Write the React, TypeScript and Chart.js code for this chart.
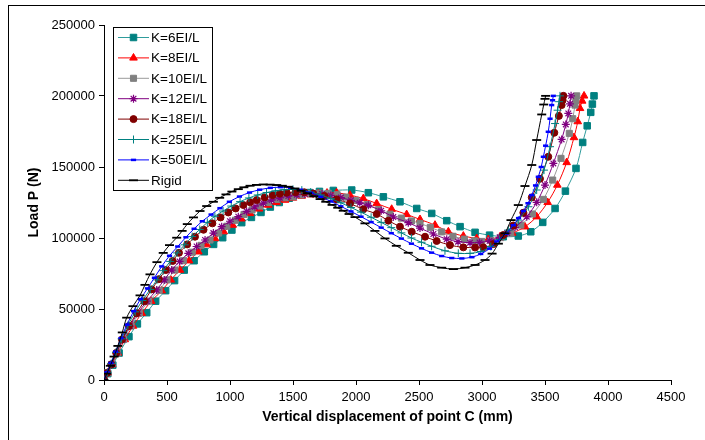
import React, { useEffect, useRef } from 'react';
import { Chart, registerables } from 'chart.js';
import { drawPoint } from 'chart.js/helpers';

Chart.register(...registerables);

// ---------- data (displacement in mm, load in N) ----------
const K6_X = [0, 30, 70, 120, 198, 265, 339, 410, 489, 560, 637, 715, 796, 870, 942, 1015, 1093, 1170, 1246, 1320, 1391, 1470, 1550, 1630, 1710, 1820, 1966, 2098, 2217, 2349, 2482, 2601, 2720, 2826, 2945, 3060, 3169, 3288, 3387, 3482, 3580, 3662, 3746, 3799, 3835, 3863, 3876, 3889];
const K6_Y = [0, 4500, 10500, 19000, 30500, 39500, 47400, 55500, 62900, 70000, 77400, 84000, 90300, 95500, 100200, 105600, 110800, 114500, 118000, 121800, 125000, 128000, 130900, 132000, 132800, 133500, 133800, 131900, 129000, 125500, 120800, 117300, 112200, 108000, 104000, 102000, 100900, 101400, 104400, 111000, 120800, 133000, 149000, 167300, 179000, 188500, 194300, 200100];

const K8_X = [0, 28, 65, 110, 165, 230, 300, 375, 458, 530, 603, 675, 749, 815, 881, 950, 1021, 1090, 1159, 1230, 1304, 1370, 1437, 1500, 1569, 1640, 1701, 1770, 1846, 1952, 2058, 2164, 2283, 2402, 2508, 2627, 2733, 2852, 2958, 3050, 3143, 3240, 3341, 3434, 3521, 3598, 3672, 3730, 3760, 3778, 3795, 3810];
const K8_Y = [0, 5000, 11000, 19000, 28500, 38000, 47000, 55500, 62900, 70500, 77400, 84000, 90300, 95300, 99700, 104500, 109100, 113500, 117300, 120500, 123200, 125100, 126700, 128200, 129500, 130500, 131200, 131700, 131900, 130200, 127800, 124300, 120300, 116600, 113100, 109100, 104400, 101400, 99700, 99000, 100900, 103500, 107900, 115000, 125100, 137300, 153200, 170800, 182000, 191300, 196500, 200100];

const K10_X = [0, 27, 62, 105, 155, 215, 280, 355, 438, 500, 563, 630, 700, 770, 841, 910, 975, 1043, 1111, 1175, 1238, 1305, 1371, 1437, 1503, 1570, 1640, 1710, 1780, 1850, 1920, 2000, 2090, 2180, 2270, 2360, 2440, 2508, 2590, 2680, 2770, 2860, 2940, 2997, 3070, 3150, 3228, 3308, 3400, 3487, 3561, 3627, 3693, 3720, 3738, 3745, 3752];
const K10_Y = [0, 5000, 11000, 19000, 28500, 38000, 47000, 55500, 63200, 70500, 77400, 84000, 90000, 94800, 98600, 103500, 108300, 112500, 116600, 119800, 122500, 125000, 127200, 128300, 129000, 130300, 131200, 131600, 131500, 130500, 128800, 126500, 123500, 120000, 116800, 114000, 112000, 110300, 107500, 104300, 101200, 99200, 98000, 97600, 98300, 100300, 103500, 109100, 116900, 127200, 140800, 156100, 173700, 184000, 193600, 197000, 200100];

const K12_X = [0, 26, 60, 100, 148, 205, 268, 340, 418, 478, 537, 600, 669, 735, 802, 868, 934, 1000, 1066, 1132, 1198, 1265, 1331, 1397, 1463, 1530, 1595, 1660, 1730, 1800, 1880, 1960, 2030, 2098, 2200, 2296, 2415, 2508, 2614, 2720, 2810, 2905, 2980, 3060, 3140, 3200, 3262, 3355, 3434, 3500, 3566, 3632, 3665, 3685, 3698, 3707];
const K12_Y = [0, 5000, 11000, 19000, 28500, 38000, 47000, 55500, 63400, 70500, 77400, 83500, 89200, 94000, 98600, 103500, 108000, 111800, 115000, 118800, 122000, 124500, 126700, 128300, 129500, 130500, 131000, 131300, 131000, 130000, 128500, 126500, 124800, 123000, 119200, 114800, 110800, 107000, 102800, 99200, 97400, 96700, 96900, 98000, 100500, 103500, 107500, 115000, 125100, 137300, 152500, 169400, 180000, 187700, 194500, 200100];

const K18_X = [0, 25, 58, 97, 143, 198, 258, 320, 378, 435, 490, 545, 595, 660, 722, 790, 860, 925, 987, 1045, 1106, 1160, 1212, 1275, 1339, 1395, 1450, 1520, 1590, 1660, 1750, 1846, 1952, 2058, 2164, 2257, 2349, 2442, 2548, 2640, 2746, 2852, 2945, 3010, 3090, 3169, 3249, 3328, 3395, 3460, 3526, 3574, 3610, 3632, 3640, 3646];
const K18_Y = [0, 5000, 11000, 19000, 28500, 38000, 47000, 55500, 63800, 71000, 77400, 83800, 89600, 95500, 100900, 105800, 110300, 114500, 118000, 120800, 123200, 125100, 126700, 128600, 130200, 131200, 131900, 132300, 132200, 131300, 129600, 127200, 124300, 120200, 116900, 112200, 108000, 104400, 100900, 97900, 95000, 93400, 93300, 93400, 95700, 102100, 108800, 117800, 128600, 141700, 157200, 174100, 186000, 193600, 197000, 200100];

const K25_X = [0, 25, 57, 95, 140, 190, 248, 305, 367, 420, 470, 525, 580, 640, 700, 760, 820, 880, 945, 1010, 1080, 1150, 1220, 1290, 1360, 1430, 1500, 1570, 1640, 1720, 1800, 1880, 1960, 2040, 2120, 2200, 2280, 2360, 2440, 2520, 2600, 2706, 2812, 2905, 2990, 3070, 3140, 3209, 3288, 3368, 3434, 3492, 3540, 3580, 3600, 3612, 3619];
const K25_Y = [0, 5200, 11500, 19500, 29000, 38500, 48000, 56000, 63800, 70500, 77000, 83500, 89500, 95200, 101000, 106000, 111000, 115300, 119000, 122500, 125600, 128200, 130300, 132000, 133200, 134000, 134200, 133700, 132300, 130300, 127700, 124800, 121500, 118200, 114600, 111000, 107300, 103600, 100000, 97000, 94200, 91000, 89200, 89200, 90500, 94000, 99000, 105600, 112600, 122000, 133800, 147800, 164300, 180600, 190000, 196000, 200100];

const K50_X = [0, 24, 55, 92, 135, 183, 235, 290, 345, 400, 458, 520, 585, 650, 715, 780, 850, 920, 995, 1075, 1155, 1235, 1320, 1400, 1480, 1560, 1640, 1720, 1800, 1880, 1960, 2040, 2120, 2200, 2280, 2360, 2440, 2520, 2600, 2680, 2760, 2840, 2920, 2990, 3060, 3117, 3190, 3249, 3290, 3328, 3365, 3395, 3425, 3447, 3470, 3487, 3505, 3526, 3540, 3553, 3560, 3566];
const K50_Y = [0, 5500, 12000, 20000, 29500, 39000, 48500, 57000, 64500, 72000, 80000, 87500, 94000, 100500, 106500, 111800, 116500, 121000, 125500, 129200, 132000, 134000, 135300, 135800, 135400, 134000, 131800, 129000, 125800, 122300, 118700, 115000, 111200, 107300, 103400, 99600, 96000, 92700, 89700, 87300, 85900, 85600, 86500, 88800, 92500, 97600, 103000, 109000, 114000, 119000, 124500, 130200, 137000, 143100, 150000, 157200, 165000, 174800, 184000, 193600, 197000, 200100];

const RIGID_X = [0, 22, 50, 80, 110, 145, 180, 230, 286, 325, 365, 420, 470, 520, 577, 620, 661, 710, 762, 815, 868, 918, 968, 1015, 1066, 1110, 1159, 1210, 1264, 1318, 1371, 1415, 1463, 1515, 1565, 1615, 1665, 1715, 1760, 1810, 1855, 1899, 1945, 1992, 2071, 2150, 2230, 2320, 2415, 2508, 2587, 2680, 2773, 2865, 2945, 3024, 3080, 3130, 3183, 3230, 3288, 3341, 3395, 3434, 3474, 3490, 3500, 3505];
const RIGID_Y = [0, 4500, 10000, 16500, 24000, 33500, 43900, 52000, 59600, 67000, 74400, 83000, 89500, 95000, 100200, 105000, 109800, 114500, 119000, 122500, 125500, 128300, 130700, 132700, 134400, 135700, 136800, 137400, 137700, 137600, 137300, 136800, 136100, 134900, 133300, 131500, 129400, 127400, 125500, 123300, 121300, 119200, 116900, 114700, 110300, 105000, 99700, 94500, 89600, 84500, 81000, 79100, 78100, 79100, 81000, 84500, 89000, 96000, 103300, 112600, 123200, 136600, 151400, 169000, 187000, 194000, 198000, 200100];

const SERIES_LABELS = ['K=6EI/L', 'K=8EI/L', 'K=10EI/L', 'K=12EI/L', 'K=18EI/L', 'K=25EI/L', 'K=50EI/L', 'Rigid'];
const SERIES_X = [K6_X, K8_X, K10_X, K12_X, K18_X, K25_X, K50_X, RIGID_X];
const SERIES_Y = [K6_Y, K8_Y, K10_Y, K12_Y, K18_Y, K25_Y, K50_Y, RIGID_Y];

const X_TITLE = 'Vertical displacement of point C (mm)';
const Y_TITLE = 'Load P (N)';

// ---------- styles ----------
const STYLES = [
  { line: '#2f9c9c', fill: '#008080', stroke: '#008080', point: 'rect', radius: 4.6, bw: 1 },
  { line: '#ff0000', fill: '#ff0000', stroke: '#ff0000', point: 'triangle', radius: 4.4, bw: 1 },
  { line: '#9a9a9a', fill: '#808080', stroke: '#808080', point: 'rect', radius: 4.3, bw: 1 },
  { line: '#800080', fill: '#800080', stroke: '#800080', point: 'star', radius: 4, bw: 1.2 },
  { line: '#800000', fill: '#800000', stroke: '#800000', point: 'circle', radius: 3.5, bw: 1 },
  { line: '#008080', fill: '#008080', stroke: '#008080', point: 'cross', radius: 4, bw: 1 },
  { line: '#0000ff', fill: '#0000ff', stroke: '#0000ff', point: 'line', radius: 2.6, bw: 2.5 },
  { line: '#000000', fill: '#000000', stroke: '#000000', point: 'line', radius: 4.5, bw: 1.8 },
];

const FONT = 'Liberation Sans, Arial, sans-serif';

const legendPlugin = {
  id: 'boxLegend',
  afterDatasetsDraw(chart: any) {
    const ctx = chart.ctx as CanvasRenderingContext2D;
    ctx.save();
    const x0 = 113, y0 = 27, w = 99, h = 163;
    ctx.fillStyle = '#ffffff';
    ctx.fillRect(x0, y0, w, h);
    ctx.strokeStyle = '#000000';
    ctx.lineWidth = 1;
    ctx.strokeRect(x0 + 0.5, y0 + 0.5, w, h);
    SERIES_LABELS.forEach((label, i) => {
      const s = STYLES[i];
      const cy = 37.5 + i * 20.4;
      ctx.strokeStyle = s.line;
      ctx.lineWidth = 1;
      ctx.beginPath();
      ctx.moveTo(118, cy);
      ctx.lineTo(149, cy);
      ctx.stroke();
      ctx.fillStyle = s.fill;
      ctx.strokeStyle = s.stroke;
      ctx.lineWidth = s.bw;
      drawPoint(ctx, { pointStyle: s.point, rotation: 0, radius: s.radius, borderWidth: s.bw } as any, 133.5, cy);
      ctx.fillStyle = '#000000';
      ctx.font = '13.5px ' + FONT;
      ctx.textBaseline = 'middle';
      ctx.textAlign = 'left';
      ctx.fillText(label, 151, cy + 0.5);
    });
    ctx.restore();
  },
};

export default function App() {
  const ref = useRef<HTMLCanvasElement | null>(null);

  useEffect(() => {
    if (!ref.current) return;
    const datasets = SERIES_LABELS.map((label, i) => {
      const s = STYLES[i];
      return {
        label,
        data: SERIES_X[i].map((x, j) => ({ x, y: SERIES_Y[i][j] })),
        borderColor: s.line,
        backgroundColor: s.fill,
        pointBackgroundColor: s.fill,
        pointBorderColor: s.stroke,
        pointStyle: s.point,
        pointRadius: s.radius,
        pointBorderWidth: s.bw,
        borderWidth: 1,
        tension: 0.3,
        showLine: true,
        fill: false,
        order: SERIES_LABELS.length - i,
      };
    });
    const chart = new Chart(ref.current, {
      type: 'scatter',
      data: { datasets } as any,
      options: {
        animation: false,
        responsive: false,
        devicePixelRatio: 1,
        layout: { padding: { left: 22, right: 34, top: 25, bottom: 10 } },
        plugins: { legend: { display: false }, tooltip: { enabled: false } },
        scales: {
          x: {
            type: 'linear',
            min: 0,
            max: 4500,
            ticks: { stepSize: 500, color: '#000', font: { family: FONT, size: 13 }, padding: 5, maxRotation: 0, callback: (v: any) => String(v) },
            grid: { drawOnChartArea: false, tickLength: 5, color: '#000' },
            border: { color: '#000', width: 1 },
            title: { display: true, text: X_TITLE, color: '#000', font: { family: FONT, size: 14, weight: 'bold' }, padding: { top: 6, bottom: 4 } },
            afterFit: (s: any) => { s.height = 50; },
          },
          y: {
            type: 'linear',
            min: 0,
            max: 250000,
            ticks: { stepSize: 50000, color: '#000', font: { family: FONT, size: 13 }, padding: 4, callback: (v: any) => String(v) },
            grid: { drawOnChartArea: false, tickLength: 5, color: '#000' },
            border: { color: '#000', width: 1 },
            title: { display: true, text: Y_TITLE, color: '#000', font: { family: FONT, size: 14, weight: 'bold' }, padding: { top: 4, bottom: 4 } },
            afterFit: (s: any) => { s.width = 82; },
          },
        },
      } as any,
      plugins: [legendPlugin],
    });
    return () => chart.destroy();
  }, []);

  return (
    <div style={{ position: 'fixed', left: 0, top: 0, width: 705, height: 440, overflow: 'hidden', background: '#fff' }}>
      <div style={{ position: 'absolute', left: 8, top: 5, width: 800, height: 500, borderLeft: '1px solid #000', borderTop: '1px solid #000' }} />
      <canvas ref={ref} width={705} height={440} style={{ position: 'absolute', left: 0, top: 0 }} />
    </div>
  );
}
